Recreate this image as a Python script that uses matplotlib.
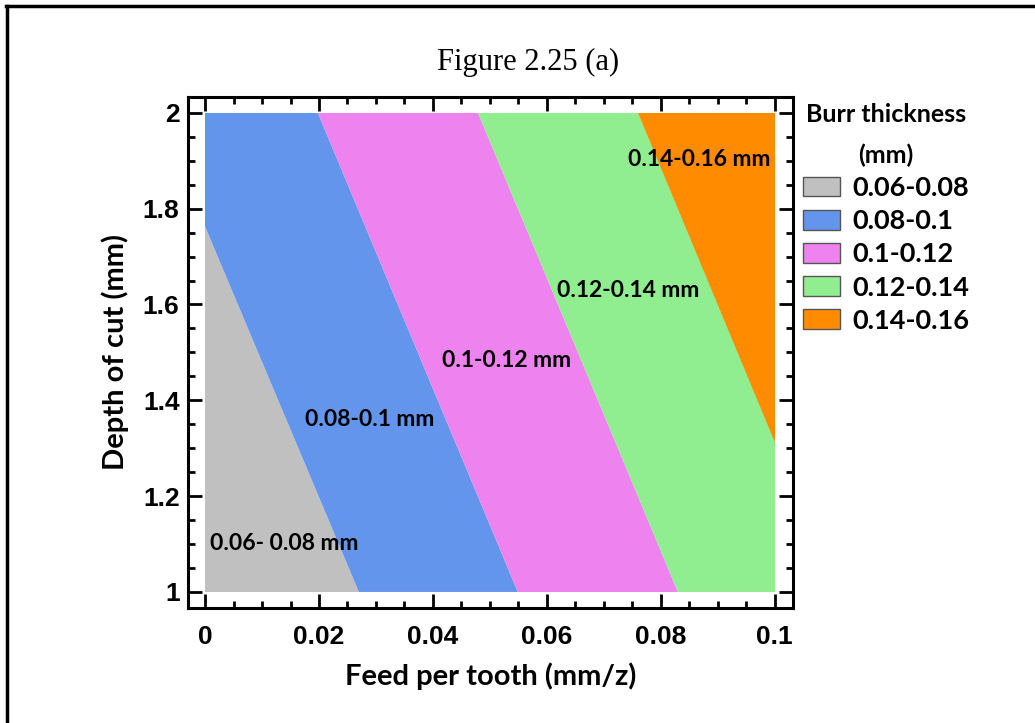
import matplotlib.pyplot as plt
from matplotlib.patches import Patch, Rectangle
from matplotlib.lines import Line2D
from matplotlib.ticker import MultipleLocator

# band boundaries (feed value where each boundary crosses depth=1 and depth=2)
depth_ends = [1.0, 2.0]
boundary_feed_d1 = [0.027, 0.0549, 0.083, 0.111]
boundary_feed_d2 = [-0.0084, 0.0198, 0.0479, 0.076]
band_names = ['0.06-0.08', '0.08-0.1', '0.1-0.12', '0.12-0.14', '0.14-0.16']
band_colors = ['#C0C0C0', '#6495ED', '#EE82EE', '#90EE90', '#FF8C00']

# in-plot labels
label_texts = ['0.06- 0.08 mm', '0.08-0.1 mm', '0.1-0.12 mm', '0.12-0.14 mm', '0.14-0.16 mm']
label_x = [0.0139, 0.0289, 0.053, 0.0742, 0.0868]
label_y = [1.102, 1.359, 1.484, 1.630, 1.902]

feed_min, feed_max = 0.0, 0.1
depth_min, depth_max = 1.0, 2.0

fig = plt.figure(figsize=(10.35, 7.23), dpi=100)
ax = fig.add_axes([0.1816, 0.1591, 0.5846, 0.7067])

clip = Rectangle((feed_min, depth_min), feed_max - feed_min, depth_max - depth_min,
                 transform=ax.transData)
lefts1 = [-0.2] + boundary_feed_d1
lefts2 = [-0.2] + boundary_feed_d2
rights1 = boundary_feed_d1 + [0.3]
rights2 = boundary_feed_d2 + [0.3]
for i, c in enumerate(band_colors):
    poly = ax.fill([lefts1[i], rights1[i], rights2[i], lefts2[i]],
                   [depth_ends[0], depth_ends[0], depth_ends[1], depth_ends[1]],
                   color=c, lw=0)[0]
    poly.set_clip_path(clip)

for t, x, y in zip(label_texts, label_x, label_y):
    ax.text(x, y, t, ha='center', va='center', fontsize=16.5, fontweight='bold',
            family='Lato')

ax.set_xlim(-0.003, 0.1032)
ax.set_ylim(0.9666, 2.033)
ax.xaxis.set_minor_locator(MultipleLocator(0.005))
ax.yaxis.set_minor_locator(MultipleLocator(0.05))
ax.set_xticks([0, 0.02, 0.04, 0.06, 0.08, 0.1])
ax.set_xticklabels(['0', '0.02', '0.04', '0.06', '0.08', '0.1'])
ax.set_yticks([1, 1.2, 1.4, 1.6, 1.8, 2])
ax.set_yticklabels(['1', '1.2', '1.4', '1.6', '1.8', '2'])
ax.tick_params(which='both', direction='in', top=True, right=True, width=2)
ax.tick_params(which='major', length=10, labelsize=19)
ax.tick_params(axis='x', which='major', pad=12)
ax.tick_params(axis='y', which='major', pad=6)
ax.tick_params(which='minor', length=5)
for lab in ax.get_xticklabels() + ax.get_yticklabels():
    lab.set_fontweight('bold')
    lab.set_family('Liberation Sans')
for s in ax.spines.values():
    s.set_linewidth(2.2)

ax.set_xlabel('Feed per tooth (mm/z)', fontsize=21, fontweight='bold', family='Lato', labelpad=10)
ax.set_ylabel('Depth of cut (mm)', fontsize=21, fontweight='bold', family='Lato', labelpad=10)

fig.text(0.510, 0.914, 'Figure 2.25 (a)', ha='center', va='center', fontsize=22,
         family='Liberation Serif')

handles = [Patch(facecolor=c, edgecolor='#555555', linewidth=1) for c in band_colors]
leg = fig.legend(handles, band_names, loc='upper left', bbox_to_anchor=(0.776, 0.858),
                 frameon=False, handlelength=1.35, handleheight=0.75, handletextpad=0.45,
                 labelspacing=0.34, borderaxespad=0, borderpad=0,
                 title='Burr thickness\n(mm)',
                 prop={'family': 'Lato', 'weight': 'bold', 'size': 19.5},
                 title_fontproperties={'family': 'Lato', 'weight': 'bold', 'size': 18})
leg.get_title().set_linespacing(1.9)
leg.get_title().set_multialignment('center')
leg._legend_box.align = 'center'

# page frame (top and left edges visible)
fig.add_artist(Line2D([0.0068, 0.0068], [0, 0.9921], transform=fig.transFigure, color='black', lw=2.5))
fig.add_artist(Line2D([0.0058, 1], [0.9921, 0.9921], transform=fig.transFigure, color='black', lw=2.5))

fig.savefig('out.png', dpi=100)
